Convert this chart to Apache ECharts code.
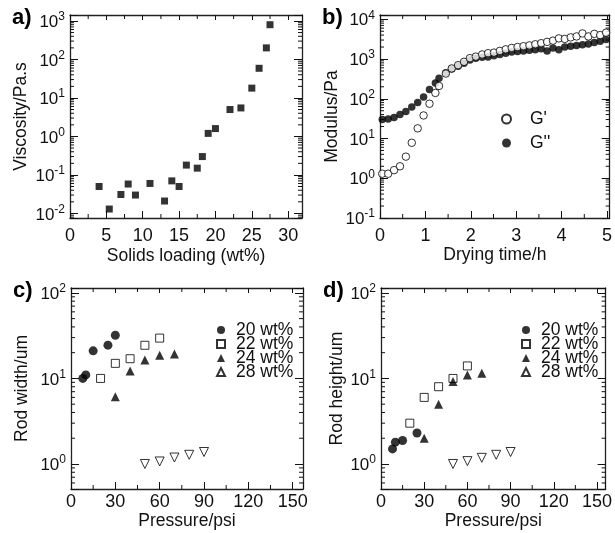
<!DOCTYPE html>
<html><head><meta charset="utf-8">
<script src="https://cdn.jsdelivr.net/npm/echarts@6/dist/echarts.min.js"></script>
<style>html,body{margin:0;padding:0;background:#fff}#c{width:615px;height:533px}</style>
</head><body><div id="c"></div>
<script>
// ---- Panel a: viscosity vs solids loading ----
const aSolids    = [4, 5.4, 7, 8, 9, 11, 13, 14, 15, 16, 17.5, 18.2, 19, 20, 22, 23.5, 25, 26, 27, 27.5];
const aViscosity = [0.05, 0.013, 0.031, 0.058, 0.03, 0.06, 0.021, 0.07, 0.05, 0.18, 0.15, 0.3, 1.2, 1.6, 5, 5.5, 18, 59, 200, 800];

// ---- Panel b: modulus vs drying time ----
const bTime  = [0.05,0.18,0.31,0.44,0.57,0.70,0.83,0.96,1.09,1.22,1.30,1.45,1.58,1.72,1.85,1.98,2.11,2.25,2.38,2.51,2.64,2.77,2.90,3.03,3.16,3.29,3.42,3.55,3.68,3.81,3.94,4.07,4.20,4.33,4.46,4.59,4.72,4.85,4.98];
const bGp    = [1.3,1.3,1.6,2.0,3.5,7.8,18,38,75,140,210,430,580,700,850,1050,1150,1300,1400,1450,1600,1750,1900,2000,2100,2200,2350,2500,2700,2900,3300,3200,3500,3700,4400,3700,4300,4000,4600];
const bGpp   = [30,31,34,40,48,62,80,110,170,250,330,450,560,660,780,950,1050,1100,1120,1200,1300,1400,1500,1550,1600,1650,1700,1800,1600,1900,1700,2000,2100,2200,2300,2400,2600,2800,3100];

// ---- Panel c/d: rod size vs pressure ----
const seriesNames = ['20 wt%', '22 wt%', '24 wt%', '28 wt%'];
const cPressure = [[8,10,15,25,30],[20,30,40,50,60],[30,40,50,60,70],[50,60,70,80,90]];
const cWidth    = [[10,11,21,24.5,32],[10,15,17,24.4,29.6],[6.1,12.2,16.4,18.6,19.3],[1.0,1.07,1.19,1.28,1.38]];
const dPressure = [[8,10,15,25],[20,30,40,50,60],[30,40,50,60,70],[50,60,70,80,90]];
const dHeight   = [[1.5,1.8,1.88,2.3],[3,6,8,10,14],[2.0,5.0,9.2,11,11.5],[1.0,1.08,1.18,1.28,1.38]];

// ---- axis settings ----
const axisFont = 'Liberation Sans, Arial, sans-serif';
const ink = '#111';

const panels = [
  {grid:{left:70, top:15, width:232, height:203}, x:[0,31.9], xInt:5, xMinor:2.5, y:[0.0076,1430], xName:'Solids loading (wt%)', yName:'Viscosity/Pa.s', xGap:29, yGap:40, xMargin:9, tag:'a)'},
  {grid:{left:380, top:15, width:232, height:203}, x:[0,5.06], xInt:1, xMinor:0.5, y:[0.1,12800], xName:'Drying time/h', yName:'Modulus/Pa', xGap:28, yGap:38, xMargin:9, tag:'b)'},
  {grid:{left:71, top:288, width:232, height:201}, x:[0,157], xInt:30, xMinor:15, y:[0.51,114], xName:'Pressure/psi', yName:'Rod width/um', xGap:20, yGap:40, xMargin:4, tag:'c)'},
  {grid:{left:381, top:288, width:230, height:201}, x:[0,156], xInt:30, xMinor:15, y:[0.51,114], xName:'Pressure/psi', yName:'Rod height/um', xGap:20, yGap:35, xMargin:4, tag:'d)'}
];

function isPow10(v){ const l=Math.log10(v); return Math.abs(l-Math.round(l))<1e-6; }
function logLabel(v){ if(!isPow10(v)) return ''; return '{b|10}{s|'+Math.round(Math.log10(v))+'}'; }
function linLabel(step){ return function(v){ const r=v/step; return Math.abs(r-Math.round(r))<1e-6 ? String(Math.round(v)) : ''; }; }

const grids=[], xAxes=[], yAxes=[], series=[], graphics=[];
panels.forEach((p,i)=>{
  grids.push(p.grid);
  const lineStyle={color:'#222', width:1.3};
  xAxes.push({type:'value', gridIndex:i, position:'bottom', min:p.x[0], max:p.x[1], interval:p.xInt,
    axisLine:{show:true,onZero:false,lineStyle}, axisTick:{show:true,inside:true,length:7,lineStyle:{color:'#111'}},
    splitLine:{show:false}, axisLabel:{color:ink, fontFamily:axisFont, fontSize:18, margin:p.xMargin, formatter:linLabel(p.xInt)},
    name:p.xName, nameLocation:'middle', nameGap:p.xGap, nameTextStyle:{color:ink, fontFamily:axisFont, fontSize:17.5}});
  xAxes.push({type:'value', gridIndex:i, position:'top', min:p.x[0], max:p.x[1], interval:p.xInt,
    axisLine:{show:true,onZero:false,lineStyle}, axisTick:{show:true,inside:true,length:5,lineStyle:{color:'#111'}},
    splitLine:{show:false}, axisLabel:{show:false}});
  yAxes.push({type:'log', gridIndex:i, position:'left', min:p.y[0], max:p.y[1], logBase:10,
    axisLine:{show:true,onZero:false,lineStyle}, axisTick:{show:true,inside:true,length:8,lineStyle:{color:'#111'}},
    splitLine:{show:false}, axisLabel:{color:ink, fontFamily:axisFont, margin:5, formatter:logLabel,
      rich:{b:{fontSize:17, fontFamily:axisFont, color:ink, lineHeight:20, verticalAlign:'bottom'}, s:{fontSize:12, fontFamily:axisFont, color:ink, lineHeight:20, verticalAlign:'top', padding:[0,0,8,0]}}},
    name:p.yName, nameLocation:'middle', nameGap:p.yGap, nameTextStyle:{color:ink, fontFamily:axisFont, fontSize:17.5}});
  yAxes.push({type:'log', gridIndex:i, position:'right', min:p.y[0], max:p.y[1], logBase:10,
    axisLine:{show:true,onZero:false,lineStyle}, axisTick:{show:true,inside:true,length:8,lineStyle:{color:'#111'}},
    splitLine:{show:false}, axisLabel:{show:false}});

  // minor ticks (drawn through the axes' own scales)
  const data=[];
  for(let v=p.xMinor; v<p.x[1]; v+=p.xInt){ data.push([v, p.y[0], 0]); }
  const lo=Math.floor(Math.log10(p.y[0])), hi=Math.ceil(Math.log10(p.y[1]));
  for(let e=lo;e<hi;e++){ for(let k=2;k<=9;k++){ const v=k*Math.pow(10,e); if(v>p.y[0]&&v<p.y[1]) data.push([p.x[0], v, 1]); } }
  series.push({type:'custom', xAxisIndex:2*i, yAxisIndex:2*i, silent:true, animation:false, clip:false, z:1, data,
    renderItem:function(params, api){
      const cs=params.coordSys; const pt=api.coord([api.value(0), api.value(1)]);
      const st={stroke:'#111', lineWidth:1};
      if(api.value(2)===0){
        const L=4, b=cs.y+cs.height, t=cs.y;
        return {type:'group', children:[
          {type:'line', shape:{x1:pt[0],y1:b,x2:pt[0],y2:b-L}, style:st},
          {type:'line', shape:{x1:pt[0],y1:t,x2:pt[0],y2:t+L}, style:st}]};
      } else {
        const L=4, l=cs.x, r=cs.x+cs.width;
        return {type:'group', children:[
          {type:'line', shape:{x1:l,y1:pt[1],x2:l+L,y2:pt[1]}, style:st},
          {type:'line', shape:{x1:r,y1:pt[1],x2:r-L,y2:pt[1]}, style:st}]};
      }
    }});
  graphics.push({type:'text', left:p.grid.left-58, top:p.grid.top-8, style:{text:p.tag, font:'bold 22px '+axisFont, fill:'#000'}});
});

function zip(xs, ys){ return xs.map((x,j)=>[x, ys[j]]); }

// panel a
series.push({type:'scatter', name:'viscosity', xAxisIndex:0, yAxisIndex:0, symbol:'rect', symbolSize:7,
  itemStyle:{color:'#000'}, data:zip(aSolids, aViscosity)});
// panel b
series.push({type:'scatter', name:"G''", xAxisIndex:2, yAxisIndex:2, symbol:'circle', symbolSize:7.5,
  itemStyle:{color:'#000'}, data:zip(bTime, bGpp)});
series.push({type:'scatter', name:"G'", xAxisIndex:2, yAxisIndex:2, symbol:'circle', symbolSize:7.5,
  itemStyle:{color:'#fff', borderColor:'#000', borderWidth:1}, data:zip(bTime, bGp)});

const styles = [
  {symbol:'circle', symbolSize:9, itemStyle:{color:'#000'}},
  {symbol:'rect', symbolSize:8, itemStyle:{color:'#fff', borderColor:'#000', borderWidth:1}},
  {symbol:'triangle', symbolSize:9, itemStyle:{color:'#000'}},
  {symbol:'triangle', symbolSize:9, symbolRotate:180, itemStyle:{color:'#fff', borderColor:'#000', borderWidth:1}}
];
[[cPressure,cWidth,4],[dPressure,dHeight,6]].forEach(([px,py,ax])=>{
  seriesNames.forEach((n,j)=>{
    series.push(Object.assign({type:'scatter', name:n, xAxisIndex:ax, yAxisIndex:ax, data:zip(px[j], py[j])}, styles[j]));
  });
});

const legendText = {color:ink, fontFamily:axisFont, fontSize:17.5, padding:[0,0,0,6]};
const option = {
  animation:false,
  backgroundColor:'#fff',
  grid:grids, xAxis:xAxes, yAxis:yAxes, series,
  legend:[
    {data:["G'", "G''"], orient:'vertical', left:496, top:105, itemGap:6, itemWidth:9, itemHeight:9, textStyle:Object.assign({}, legendText, {padding:[0,0,0,14]}), selectedMode:false},
    {data:seriesNames, orient:'vertical', left:211, top:316, itemGap:-4, itemWidth:8, itemHeight:8, textStyle:legendText, selectedMode:false},
    {data:seriesNames, orient:'vertical', left:516, top:316, itemGap:-4, itemWidth:8, itemHeight:8, textStyle:legendText, selectedMode:false}
  ],
  graphic:graphics
};
const chart = echarts.init(document.getElementById('c'), null, {renderer:'canvas'});
chart.setOption(option);
</script></body></html>
